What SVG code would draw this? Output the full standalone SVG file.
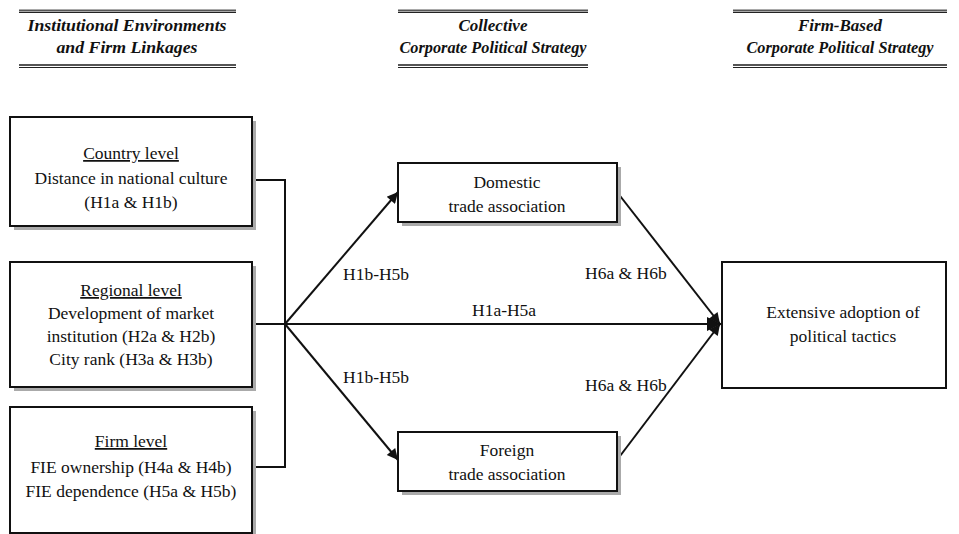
<svg xmlns="http://www.w3.org/2000/svg" width="959" height="534" viewBox="0 0 959 534">
<style>
.hd{font-family:'Liberation Serif','Times New Roman',serif;font-size:17px;font-weight:bold;font-style:italic;fill:#111;text-anchor:middle}
.t{font-family:'Liberation Serif','Times New Roman',serif;font-size:17.5px;fill:#111;text-anchor:middle}
.lb{font-family:'Liberation Serif','Times New Roman',serif;font-size:17.5px;fill:#111}
.box{fill:#fff;stroke:#111;stroke-width:2}
.sh{fill:#aaa}
.hl1{stroke:#555;stroke-width:2}
.hl2{stroke:#222;stroke-width:1}
.c{stroke:#111;stroke-width:2;fill:none}
</style>
<defs>
<marker id="ah" viewBox="0 0 10 10" refX="10" refY="5" markerWidth="14" markerHeight="11" markerUnits="userSpaceOnUse" orient="auto">
<path d="M0,0 L10,5 L0,10 z" fill="#111"/>
</marker>
<marker id="ahb" viewBox="0 0 10 10" refX="10" refY="5" markerWidth="17" markerHeight="14" markerUnits="userSpaceOnUse" orient="auto">
<path d="M0,0 L10,5 L0,10 z" fill="#111"/>
</marker>
</defs>
<g id="headers">
<line class="hl1" x1="19" y1="10.5" x2="236" y2="10.5"/><line class="hl2" x1="19" y1="12.5" x2="236" y2="12.5"/>
<text class="hd" x="127" y="31" textLength="199" lengthAdjust="spacingAndGlyphs">Institutional Environments</text>
<text class="hd" x="127" y="53" textLength="141" lengthAdjust="spacingAndGlyphs">and Firm Linkages</text>
<line class="hl1" x1="19" y1="65" x2="236" y2="65"/><line class="hl2" x1="19" y1="67.5" x2="236" y2="67.5"/>
<line class="hl1" x1="398" y1="10.5" x2="588" y2="10.5"/><line class="hl2" x1="398" y1="12.5" x2="588" y2="12.5"/>
<text class="hd" x="493" y="31">Collective</text>
<text class="hd" x="493" y="53" textLength="187" lengthAdjust="spacingAndGlyphs">Corporate Political Strategy</text>
<line class="hl1" x1="398" y1="65" x2="588" y2="65"/><line class="hl2" x1="398" y1="67.5" x2="588" y2="67.5"/>
<line class="hl1" x1="733" y1="10.5" x2="947" y2="10.5"/><line class="hl2" x1="733" y1="12.5" x2="947" y2="12.5"/>
<text class="hd" x="840" y="31">Firm-Based</text>
<text class="hd" x="840" y="53" textLength="187" lengthAdjust="spacingAndGlyphs">Corporate Political Strategy</text>
<line class="hl1" x1="733" y1="65" x2="947" y2="65"/><line class="hl2" x1="733" y1="67.5" x2="947" y2="67.5"/>
</g>
<g id="connectors">
<polyline class="c" points="252,180 285,180 285,467 252,467"/>
<line class="c" x1="252" y1="324" x2="721" y2="324" marker-end="url(#ahb)"/>
<line class="c" x1="285" y1="324" x2="398" y2="192" marker-end="url(#ah)"/>
<line class="c" x1="285" y1="324" x2="398" y2="460" marker-end="url(#ah)"/>
<line class="c" x1="617" y1="192" x2="720" y2="324" marker-end="url(#ah)"/>
<line class="c" x1="617" y1="460" x2="720" y2="324" marker-end="url(#ah)"/>
<text class="lb" x="343" y="280">H1b-H5b</text>
<text class="lb" x="343" y="383">H1b-H5b</text>
<text class="lb" x="472" y="316">H1a-H5a</text>
<text class="lb" x="585" y="279">H6a &amp; H6b</text>
<text class="lb" x="585" y="391">H6a &amp; H6b</text>
</g>
<g id="country">
<rect class="sh" x="14" y="121" width="242" height="109"/>
<rect class="box" x="10" y="117" width="242" height="109"/>
<text class="t" x="131" y="159" text-decoration="underline">Country level</text>
<text class="t" x="131" y="184">Distance in national culture</text>
<text class="t" x="131" y="208">(H1a &amp; H1b)</text>
</g>
<g id="regional">
<rect class="sh" x="14" y="266" width="242" height="125"/>
<rect class="box" x="10" y="262" width="242" height="125"/>
<text class="t" x="131" y="296" text-decoration="underline">Regional level</text>
<text class="t" x="131" y="319">Development of market</text>
<text class="t" x="131" y="342">institution (H2a &amp; H2b)</text>
<text class="t" x="131" y="365">City rank (H3a &amp; H3b)</text>
</g>
<g id="firm">
<rect class="sh" x="14" y="411" width="242" height="126"/>
<rect class="box" x="10" y="407" width="242" height="126"/>
<text class="t" x="131" y="447" text-decoration="underline">Firm level</text>
<text class="t" x="131" y="473">FIE ownership (H4a &amp; H4b)</text>
<text class="t" x="131" y="497">FIE dependence (H5a &amp; H5b)</text>
</g>
<g id="domestic">
<rect class="sh" x="402" y="167" width="219" height="59"/>
<rect class="box" x="398" y="163" width="219" height="59"/>
<text class="t" x="507" y="188">Domestic</text>
<text class="t" x="507" y="212">trade association</text>
</g>
<g id="foreign">
<rect class="sh" x="402" y="436" width="219" height="59"/>
<rect class="box" x="398" y="432" width="219" height="59"/>
<text class="t" x="507" y="456">Foreign</text>
<text class="t" x="507" y="480">trade association</text>
</g>
<g id="outcome">
<rect class="box" x="722" y="262" width="224" height="126"/>
<text class="t" x="843" y="318">Extensive adoption of</text>
<text class="t" x="843" y="342">political tactics</text>
</g>
</svg>
